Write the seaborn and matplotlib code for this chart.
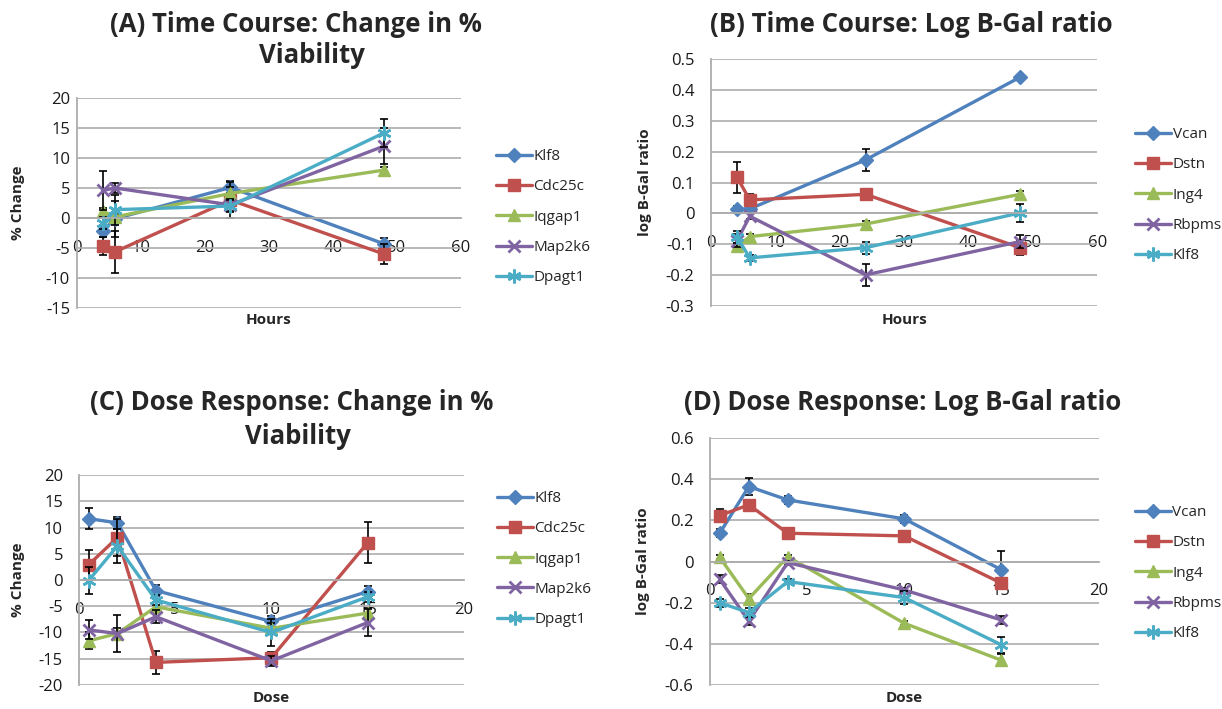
import numpy as np
import pandas as pd
import matplotlib
matplotlib.use('Agg')
import matplotlib.pyplot as plt
import seaborn as sns

# ---------------- data ----------------
hours = [4, 6, 24, 48]
doses = [0.5, 2, 4, 10, 15]
viab_genes = ['Klf8', 'Cdc25c', 'Iqgap1', 'Map2k6', 'Dpagt1']
bgal_genes = ['Vcan', 'Dstn', 'Ing4', 'Rbpms', 'Klf8']

# (A) time course, % viability change
a_klf8 = [-2.1, -0.1, 5.1, -4.3]
a_cdc25c = [-4.7, -5.6, 3.0, -6.0]
a_iqgap1 = [1.1, 0.2, 4.1, 8.0]
a_map2k6 = [4.6, 5.0, 2.2, 12.0]
a_dpagt1 = [-0.9, 1.4, 2.0, 14.2]
a_klf8_err = [1.0, 3.0, 1.0, 1.0]
a_cdc25c_err = [1.5, 3.5, 3.0, 1.6]
a_iqgap1_err = [0.5, 0.5, 1.0, 0.5]
a_map2k6_err = [3.3, 0.8, 1.0, 3.0]
a_dpagt1_err = [1.0, 2.5, 1.0, 2.3]

# (B) time course, log B-Gal ratio
b_vcan = [0.013, 0.015, 0.174, 0.442]
b_dstn = [0.118, 0.044, 0.062, -0.111]
b_ing4 = [-0.107, -0.075, -0.034, 0.062]
b_rbpms = [-0.088, -0.009, -0.199, -0.091]
b_klf8 = [-0.077, -0.144, -0.111, 0.002]
b_vcan_err = [0.01, 0.01, 0.035, 0.005]
b_dstn_err = [0.05, 0.02, 0.01, 0.025]
b_ing4_err = [0.01, 0.01, 0.01, 0.01]
b_rbpms_err = [0.02, 0.01, 0.035, 0.02]
b_klf8_err = [0.02, 0.01, 0.02, 0.03]

# (C) dose response, % viability change
c_klf8 = [11.7, 10.9, -2.0, -7.9, -2.2]
c_cdc25c = [2.9, 8.1, -15.7, -14.8, 7.1]
c_iqgap1 = [-11.6, -10.2, -5.1, -9.2, -6.3]
c_map2k6 = [-9.5, -10.2, -7.0, -15.4, -8.1]
c_dpagt1 = [-0.1, 6.5, -3.8, -10.0, -3.2]
c_klf8_err = [2.0, 1.2, 1.0, 1.0, 1.0]
c_cdc25c_err = [2.8, 3.5, 2.2, 1.0, 3.9]
c_iqgap1_err = [1.6, 1.0, 1.0, 1.0, 1.0]
c_map2k6_err = [1.8, 3.5, 1.2, 1.0, 2.6]
c_dpagt1_err = [2.6, 3.2, 1.0, 2.5, 1.0]

# (D) dose response, log B-Gal ratio
d_vcan = [0.138, 0.365, 0.30, 0.208, -0.04]
d_dstn = [0.224, 0.276, 0.138, 0.125, -0.105]
d_ing4 = [0.021, -0.18, 0.024, -0.30, -0.48]
d_rbpms = [-0.086, -0.29, -0.005, -0.138, -0.284]
d_klf8 = [-0.20, -0.248, -0.097, -0.175, -0.405]
d_vcan_err = [0.02, 0.04, 0.02, 0.02, 0.09]
d_dstn_err = [0.03, 0.02, 0.01, 0.01, 0.02]
d_ing4_err = [0.01, 0.02, 0.01, 0.01, 0.03]
d_rbpms_err = [0.02, 0.02, 0.01, 0.01, 0.02]
d_klf8_err = [0.02, 0.02, 0.01, 0.03, 0.04]

# ---------------- style ----------------
colors = ['#4F81BD', '#C0504D', '#9BBB59', '#8064A2', '#4BACC6']
markers = ['D', 's', '^', 'x', (6, 2, 0)]
msizes = [7, 8.5, 9, 8, 10]
mews = [1, 1, 1, 2, 1.8]
GRAY = '#ADADAD'

sns.set_style('white')
plt.rcParams['font.family'] = ['Open Sans', 'DejaVu Sans']
plt.rcParams['axes.unicode_minus'] = False

fig = plt.figure(figsize=(12.22, 7.09), dpi=100)
axA = fig.add_axes([0.063, 0.5656, 0.314, 0.296])
axB = fig.add_axes([0.582, 0.5684, 0.316, 0.348])
axC = fig.add_axes([0.0646, 0.0339, 0.315, 0.296])
axD = fig.add_axes([0.581, 0.0339, 0.318, 0.348])


def panel(ax, xs, vals, errs, genes, xlim, xticks, ylim, yticks, yfmt,
          ylab, xlab, ylab_x, xlab_y, ypad, leg_anchor):
    for i, (g, v, e, c, m, ms, mew) in enumerate(
            zip(genes, vals, errs, colors, markers, msizes, mews)):
        df = pd.DataFrame({'x': xs, 'y': v})
        sns.lineplot(data=df, x='x', y='y', ax=ax, color=c, marker=m,
                     markersize=ms, markeredgecolor=c, markerfacecolor=c,
                     markeredgewidth=mew, linewidth=2.4, label=g,
                     errorbar=None, sort=False, clip_on=False,
                     zorder=2 + 0.1 * i)
        ax.errorbar(xs, v, yerr=e, fmt='none', ecolor='black', elinewidth=1.2,
                    capsize=3, capthick=1.2, zorder=1.95 + 0.1 * i)
    ax.set_xlim(*xlim)
    ax.set_ylim(*ylim)
    ax.set_xticks(xticks)
    ax.set_xticklabels([f'{t:g}' for t in xticks])
    ax.set_yticks(yticks)
    ax.set_yticklabels([yfmt(t) for t in yticks])
    for s in ['top', 'right']:
        ax.spines[s].set_visible(False)
    ax.spines['bottom'].set_position(('data', 0))
    for s in ['left', 'bottom']:
        ax.spines[s].set_color(GRAY)
        ax.spines[s].set_linewidth(1.3)
    ax.grid(axis='y', color=GRAY, linewidth=1.2)
    ax.grid(axis='x', visible=False)
    ax.set_axisbelow(True)
    ax.tick_params(axis='x', direction='out', length=3, width=1.2, color=GRAY,
                   pad=12.5, labelsize=12, labelcolor='#1a1a1a')
    ax.tick_params(axis='y', direction='out', length=3, width=1.2, color=GRAY,
                   pad=ypad, labelsize=12, labelcolor='#1a1a1a')
    ax.set_xlabel('')
    ax.set_ylabel(ylab, fontsize=11, fontweight='bold')
    ax.yaxis.set_label_coords(ylab_x, 0.5)
    ax.text(0.5, xlab_y, xlab, transform=ax.transAxes, ha='center', va='center',
            fontsize=11, fontweight='bold')
    ax.legend(loc='center left', bbox_to_anchor=leg_anchor, frameon=False,
              borderaxespad=0, borderpad=0, handlelength=2.35,
              handletextpad=0.1, labelspacing=1.0, fontsize=11, numpoints=1)


def f_int(t):
    return f'{t:g}'


def f_dec(t):
    return '0' if abs(t) < 1e-9 else f'{t:.1f}'


panel(axA, hours, [a_klf8, a_cdc25c, a_iqgap1, a_map2k6, a_dpagt1],
      [a_klf8_err, a_cdc25c_err, a_iqgap1_err, a_map2k6_err, a_dpagt1_err],
      viab_genes, (0, 60), np.arange(0, 61, 10), (-15, 20), np.arange(-15, 21, 5),
      f_int, '% Change', 'Hours', -0.135, -0.057, 2, (1.091, 0.433))

panel(axB, hours, [b_vcan, b_dstn, b_ing4, b_rbpms, b_klf8],
      [b_vcan_err, b_dstn_err, b_ing4_err, b_rbpms_err, b_klf8_err],
      bgal_genes, (0, 60), np.arange(0, 61, 10), (-0.3, 0.5),
      np.round(np.arange(-0.3, 0.51, 0.1), 1),
      f_dec, 'log B-Gal ratio', 'Hours', -0.153, -0.057, 9, (1.098, 0.449))

panel(axC, doses, [c_klf8, c_cdc25c, c_iqgap1, c_map2k6, c_dpagt1],
      [c_klf8_err, c_cdc25c_err, c_iqgap1_err, c_map2k6_err, c_dpagt1_err],
      viab_genes, (0, 20), np.arange(0, 21, 5), (-20, 20), np.arange(-20, 21, 5),
      f_int, '% Change', 'Dose', -0.140, -0.062, 8.5, (1.086, 0.60))

panel(axD, doses, [d_vcan, d_dstn, d_ing4, d_rbpms, d_klf8],
      [d_vcan_err, d_dstn_err, d_ing4_err, d_rbpms_err, d_klf8_err],
      bgal_genes, (0, 20), np.arange(0, 21, 5), (-0.6, 0.6),
      np.round(np.arange(-0.6, 0.61, 0.2), 1),
      f_dec, 'log B-Gal ratio', 'Dose', -0.154, -0.053, 9, (1.093, 0.453))

# ---------------- titles ----------------
tkw = dict(ha='center', va='baseline', fontsize=18.5, fontweight='bold')
fig.text(296 / 1222, 1 - 32 / 709, '(A) Time Course: Change in %', **tkw)
fig.text(312 / 1222, 1 - 63 / 709, 'Viability', **tkw)
fig.text(911 / 1222, 1 - 32 / 709, '(B) Time Course: Log B-Gal ratio', **tkw)
fig.text(292 / 1222, 1 - 410 / 709, '(C) Dose Response: Change in %', **tkw)
fig.text(298 / 1222, 1 - 444 / 709, 'Viability', **tkw)
fig.text(903 / 1222, 1 - 410 / 709, '(D) Dose Response: Log B-Gal ratio', **tkw)

fig.savefig('out.png', dpi=100)
